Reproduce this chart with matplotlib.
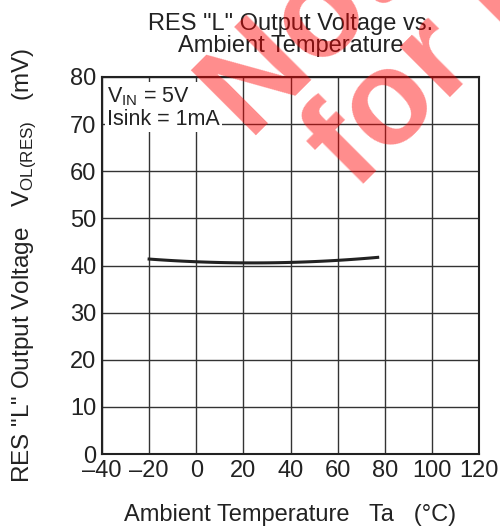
import matplotlib
matplotlib.use("Agg")
import matplotlib.pyplot as plt
import numpy as np

temps = [-20, 0, 20, 40, 60, 77]
vol = [41.3, 40.9, 40.6, 40.6, 41.0, 41.8]
xticks = [-40, -20, 0, 20, 40, 60, 80, 100, 120]
xticklabels = ["\u201340", "\u201320", "0", "20", "40", "60", "80", "100", "120"]
yticks = [0, 10, 20, 30, 40, 50, 60, 70, 80]

plt.rcParams['font.family'] = ['Liberation Sans', 'DejaVu Sans']

fig = plt.figure(figsize=(5.0, 5.31), dpi=100)
ax = fig.add_axes([0.204, 0.145, 0.754, 0.710])
ax.set_xlim(-40, 120)
ax.set_ylim(0, 80)
ax.set_xticks(xticks)
ax.set_xticklabels(xticklabels)
ax.set_yticks(yticks)
ax.tick_params(length=0, labelsize=17, colors='#222222', pad=4)
ax.grid(True, color='#333333', lw=1.0)
for s in ax.spines.values():
    s.set_linewidth(1.5)
    s.set_color('#222222')

tt = np.array(temps, float)
vv = np.array(vol, float)
coef = np.polyfit(tt, vv, 2)
xs = np.linspace(tt[0], tt[-1], 100)
ax.plot(xs, np.polyval(coef, xs), color='#222222', lw=2.2, zorder=3)

ax.text(-38, 78.3, "V$_{\\mathregular{IN}}$ = 5V\nIsink = 1mA", fontsize=15.5, va='top', ha='left',
        color='#222222', linespacing=1.1,
        bbox=dict(facecolor='white', edgecolor='none', pad=1.5), zorder=4)

ax.set_title('RES "L" Output Voltage vs.\nAmbient Temperature', fontsize=17, color='#222222',
             linespacing=1.0, pad=18)
ax.set_xlabel('Ambient Temperature   Ta   (\u00b0C)', fontsize=17, color='#222222', labelpad=16)
ax.set_ylabel('RES "L" Output Voltage   V$_{\\mathregular{OL(RES)}}$   (mV)', fontsize=17.5,
              color='#222222', labelpad=23)

wm = dict(fontsize=96, fontweight='bold', color='red', alpha=0.45, rotation=45,
          ha='left', va='baseline', rotation_mode='anchor', zorder=10,
          transform=fig.transFigure)
fig.text(0.500, 0.734, "Not recommended", **wm)
fig.text(0.710, 0.638, "for new designs", **wm)

fig.savefig("out.png", dpi=100)
